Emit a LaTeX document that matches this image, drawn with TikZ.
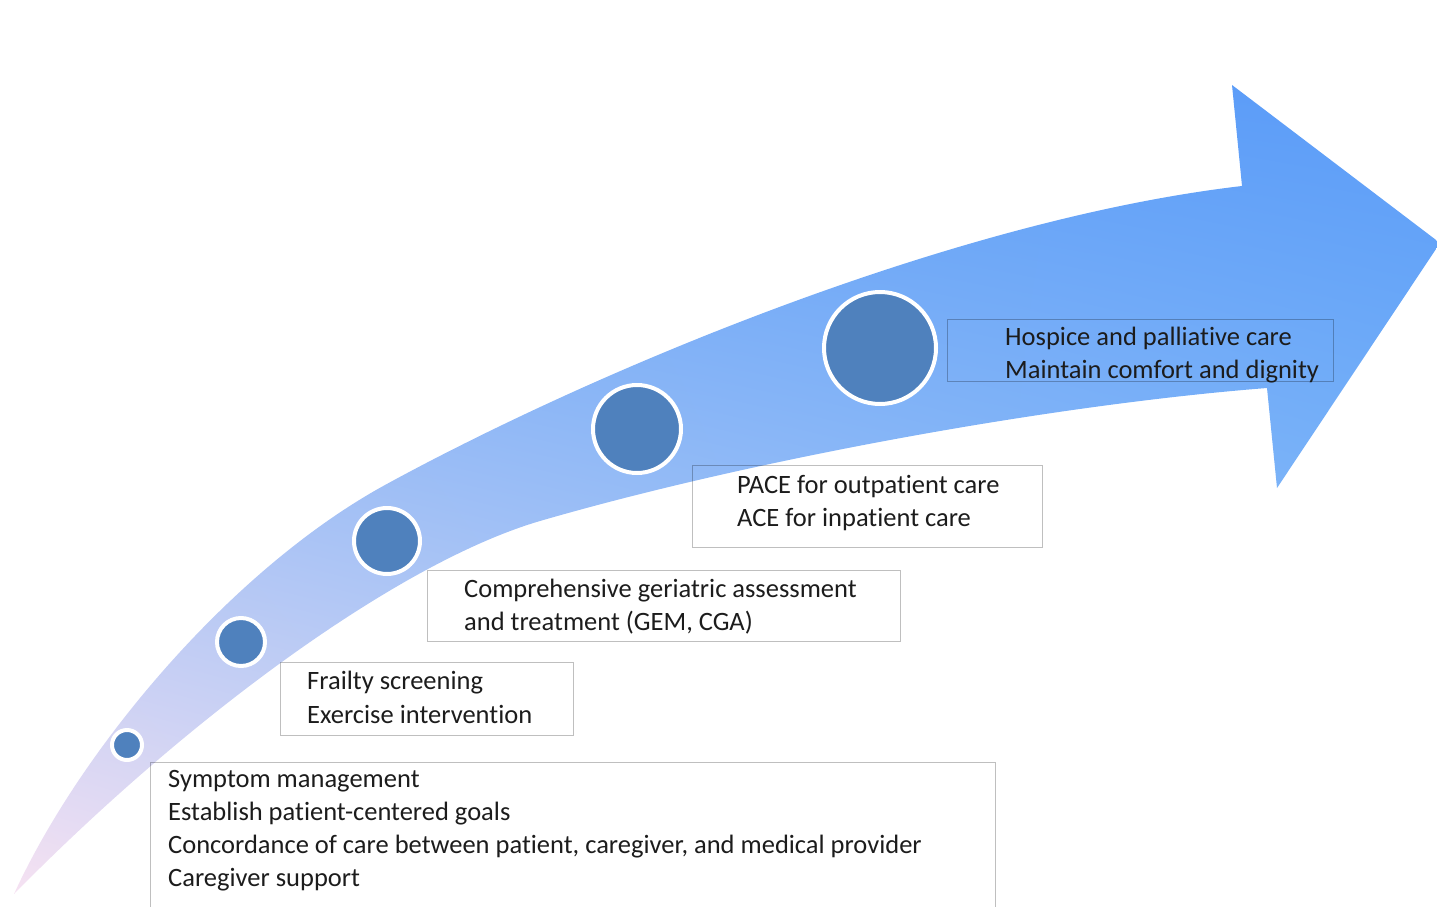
\documentclass[tikz,border=0pt]{standalone}
\usepackage{fontspec}
\setmainfont{Carlito}[Ligatures=NoCommon]
\usepackage{xcolor}
\usetikzlibrary{shadings}
\definecolor{stagefill}{HTML}{4F81BD}
\definecolor{caretextcol}{HTML}{1C1C1C}
\definecolor{arrowul}{HTML}{68A6F6}
\definecolor{arrowur}{HTML}{5A9BF8}
\definecolor{arrowll}{HTML}{F6E2F2}
\definecolor{arrowlr}{HTML}{8EC6FA}
\tikzset{carebox/.style={draw=black, draw opacity=0.25, line width=1.3pt, inner sep=0pt, anchor=north west},
caretext/.style={text=caretextcol, align=left, inner sep=0pt, anchor=base west,
font=\fontsize{26.5pt}{33pt}\selectfont}}

\begin{document}
\begin{tikzpicture}[x=1pt, y=-1pt, stage/.style={circle, fill=stagefill, draw=white, line width=4pt, inner sep=0pt}]

	\useasboundingbox (0,0) rectangle (1437,907);
	\clip (0,0) rectangle (1437,907);

	\shade[upper left=arrowul, upper right=arrowur, lower left=arrowll, lower right=arrowlr]
		(14,894) .. controls (80,750) and (230,570) .. (385,485)
		.. controls (586,375) and (950,220) .. (1242,186)
		-- (1232,85) -- (1440,243) -- (1277,488) -- (1267,388)
		.. controls (1050,405) and (750,460) .. (540,521)
		.. controls (400,562) and (190,715) .. (14,894)
		-- cycle;

	\node[stage, minimum size=30pt] (s1) at (127,745) {};
	\node[stage, minimum size=48pt] (s2) at (241,642) {};
	\node[stage, minimum size=66pt] (s3) at (387,541) {};
	\node[stage, minimum size=88pt] (s4) at (637,429) {};
	\node[stage, minimum size=112pt] (s5) at (880,348) {};

	\node[carebox, minimum width=386pt, minimum height=62pt] (hospice) at (947,319) {};
	\node[carebox, minimum width=350pt, minimum height=82pt] (pace) at (692,465) {};
	\node[carebox, minimum width=473pt, minimum height=71pt] (cga) at (427,570) {};
	\node[carebox, minimum width=293pt, minimum height=73pt] (frailty) at (280,662) {};
	\node[carebox, minimum width=845pt, minimum height=160pt] (symptom) at (150,762) {};

	\node[caretext] (hospicetxt) at (1005,378) {Hospice and palliative care\\Maintain comfort and dignity};
	\node[caretext] (pacetxt) at (737,526) {PACE for outpatient care\\ACE for inpatient care};
	\node[caretext] (cgatxt) at (464,630) {Comprehensive geriatric assessment\\and treatment (GEM, CGA)};
	\node[caretext, font=\fontsize{26.5pt}{34pt}\selectfont] (frailtytxt) at (307,723) {Frailty screening\\Exercise intervention};
	\node[caretext] (symptomtxt) at (168,886) {Symptom management\\Establish patient-centered goals\\Concordance of care between patient, caregiver, and medical provider\\Caregiver support};
\end{tikzpicture}
\end{document}
